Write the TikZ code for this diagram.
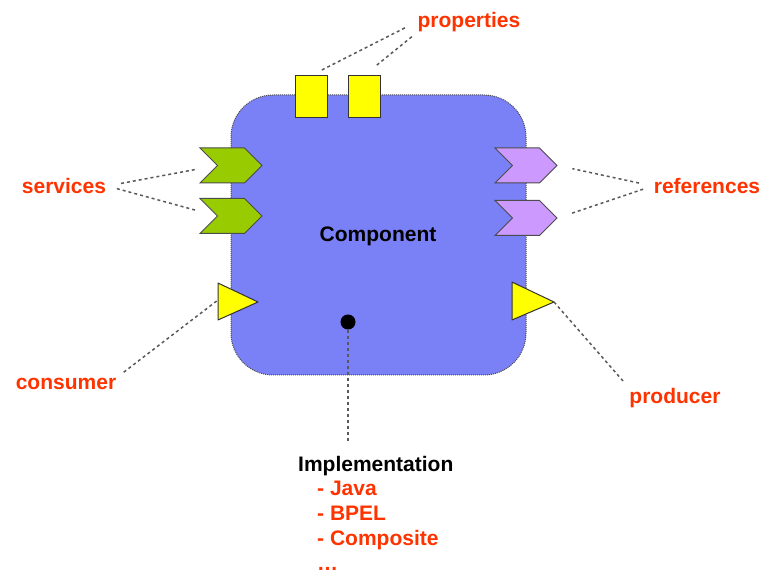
\documentclass[tikz,border=0pt]{standalone}
\usepackage{fontspec}
\setmainfont{Liberation Sans}
\usetikzlibrary{positioning,shapes.symbols}

\definecolor{compblue}{RGB}{122,128,245}
\definecolor{labelred}{RGB}{255,51,0}
\definecolor{svcgreen}{RGB}{153,204,0}
\definecolor{refpurple}{RGB}{204,153,255}
\definecolor{propyellow}{RGB}{255,255,0}

\begin{document}
\begin{tikzpicture}[x=1pt,y=-1pt]
        \tikzstyle{txt}=[font=\fontsize{21}{25}\selectfont\bfseries, inner sep=1pt]
        \tikzstyle{lbl}=[txt, text=labelred]
        \tikzstyle{link}=[draw=black!65, line width=1.5pt, dash pattern=on 3pt off 3pt]
        \tikzstyle{prop}=[draw=black!80, fill=propyellow, line width=1pt, minimum width=32pt, minimum height=42pt, inner sep=0pt]
        \tikzstyle{chev}=[signal, signal from=west, signal to=east, draw=black!70, line width=1pt, minimum width=62pt, minimum height=35pt, inner sep=0pt]
        \tikzstyle{port}=[draw=black!80, fill=propyellow, line width=1pt, line join=round]

        \useasboundingbox (0,0) rectangle (761,577);

        % the component
        \draw[fill=compblue, draw=black!70, densely dotted, line width=1pt, rounded corners=42pt] (231,95) rectangle (526,375);
        \node[txt] (comp) at (378,236) {Component};

        \node[prop] (prop1) at (311,97) {};
        \node[prop] (prop2) at (364,97) {};

        \node[chev, fill=svcgreen] (svc1) at (231,165.5) {};
        \node[chev, fill=svcgreen] (svc2) at (231,216) {};
        \node[chev, fill=refpurple] (ref1) at (526,165.5) {};
        \node[chev, fill=refpurple] (ref2) at (526,218) {};

        \draw[port] (218,283) -- (258,302) -- (218,320) -- cycle;
        \coordinate (cons) at (218,300);
        \draw[port] (512,282) -- (554,302) -- (512,320) -- cycle;
        \coordinate (prod) at (554,302);

        \node[circle, fill=black, inner sep=0pt, minimum size=15pt] (impl) at (348,322) {};

        % labels
        \node[lbl] (plbl) at (469,22) {properties};
        \node[lbl] (slbl) at (64,186) {services};
        \node[lbl] (rlbl) at (707,186) {references};
        \node[lbl] (clbl) at (66,384) {consumer};
        \node[lbl] (prdlbl) at (675,398) {producer};

        \node[txt, anchor=west] (itxt) at (297,466) {Implementation};
        \node[lbl, anchor=north west, align=left] (ilist) at (316,480) {- Java\\- BPEL\\- Composite\\\dots};

        % connectors
        \draw[link, shorten <=13pt, shorten >=11pt] (plbl.west) -- (prop1.north);
        \draw[link, shorten <=6pt, shorten >=15pt] (plbl.south west) -- (prop2.north);
        \draw[link, shorten <=14pt, shorten >=22pt] (slbl.east) -- (svc1.west);
        \draw[link, shorten <=10pt, shorten >=22pt] (slbl.east) -- (svc2.west);
        \draw[link, shorten <=14pt, shorten >=15pt] (rlbl.west) -- (ref1.east);
        \draw[link, shorten <=10pt, shorten >=15pt] (rlbl.west) -- (ref2.east);
        \draw[link, shorten <=8pt] (clbl.north east) -- (cons);
        \draw[link, shorten >=8pt] (prod) -- (prdlbl.north west);
        \draw[link, shorten >=12pt] (impl) -- (itxt.north -| impl);
\end{tikzpicture}
\end{document}
